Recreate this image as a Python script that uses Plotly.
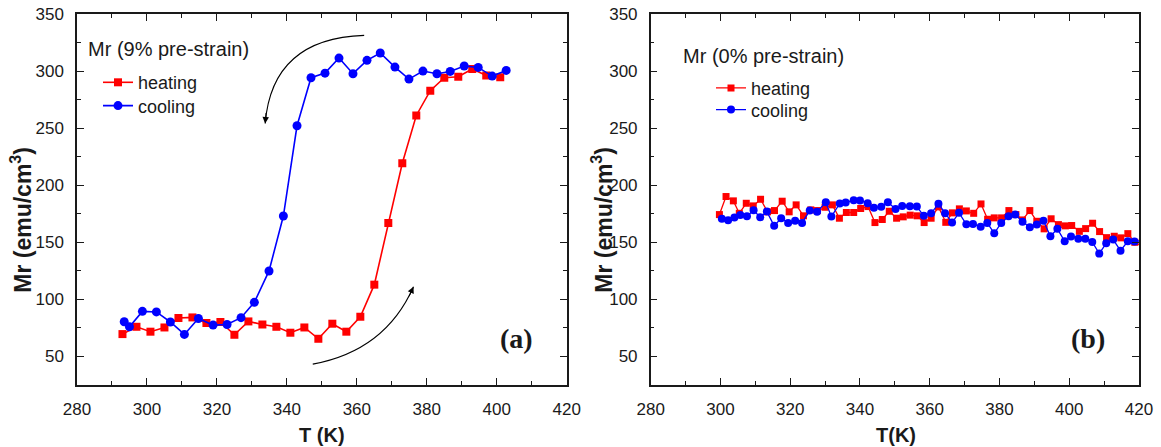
import plotly.graph_objects as go

# ---------------- data: panel (a) Mr, 9% pre-strain ----------------
a_heat_T = [293, 297, 301, 305, 309, 313, 317, 321, 325, 329, 333, 337, 341, 345,
            349, 353, 357, 361, 365, 369, 373, 377, 381, 385, 389, 393, 397, 401]
a_heat_Mr = [69.6, 76, 71.7, 75.4, 83.7, 84.2, 79.3, 80.2, 69, 80.7, 78, 76, 70.8, 75.4,
             65.5, 78.7, 71.7, 84.8, 112.9, 167, 219.3, 261.1, 282.8, 294.2, 295, 301.8, 296.2, 294.7]
a_cool_T = [293.5, 295, 298.7, 302.7, 306.7, 310.7, 314.7, 318.9, 322.9, 326.9, 330.7, 334.9, 339,
            342.9, 346.9, 350.9, 354.9, 358.9, 362.9, 366.7, 370.9, 374.9, 378.9, 382.9, 386.7,
            390.7, 394.7, 398.7, 402.7]
a_cool_Mr = [80.4, 76, 89.5, 89, 80.2, 69.3, 83.3, 77.5, 78, 84, 97.4, 124.9, 173,
             252.1, 294.2, 298.2, 311.4, 297.7, 309.4, 315.8, 303.5, 293, 300, 297.7, 299.7,
             304.4, 303.2, 295.6, 300.6]

# ---------------- data: panel (b) Mr, 0% pre-strain ----------------
b_heat_T = [299.7, 301.6, 303.7, 305.4, 307.4, 309.4, 311.5, 313.5, 315.5, 317.7,
            319.7, 321.7, 323.8, 325.9, 327.8, 330.0, 332.1, 334.1, 336.1, 338.2,
            340.2, 342.3, 344.3, 346.4, 348.4, 350.5, 352.4, 354.4, 356.4, 358.4,
            360.4, 362.5, 364.6, 366.5, 368.5, 370.5, 372.6, 374.7, 376.6, 378.5,
            380.6, 382.7, 384.7, 386.6, 388.7, 390.7, 392.8, 394.8, 396.9, 398.9,
            400.7, 402.9, 404.7, 406.7, 408.7, 410.7, 412.9, 414.8, 416.8, 418.8, 420.6]
b_heat_Mr = [174.3, 190.1, 186.3, 175.4, 184.2, 181.9, 187.7, 176.7, 177.8, 186,
             176.7, 182.8, 173.2, 178.4, 177.8, 180.7, 182.8, 171.1, 176.1, 176.1,
             179.6, 181.3, 167.3, 170, 177.2, 171.1, 172.3, 173.8, 173.2, 167.3,
             171.1, 181, 167.5, 175.8, 179.3, 177.5, 175.4, 183.6, 170.2, 171.4,
             171.4, 177.8, 174.3, 169.6, 177.8, 168.4, 161.8, 170.6, 165.5, 164.4,
             164.7, 159.6, 162, 166.7, 159.4, 154.1, 155.3, 153.9, 157.6, 150, 147]
b_cool_T = [300.4, 302.2, 304.0, 305.7, 307.6, 309.5, 311.4, 313.3, 315.4, 317.4,
            319.4, 321.4, 323.4, 325.6, 327.7, 330.2, 331.8, 334.2, 335.9, 338.2,
            340.0, 342.2, 344.0, 346.1, 348.0, 350.2, 352.1, 354.3, 356.3, 358.3,
            360.4, 362.5, 364.4, 366.4, 368.4, 370.5, 372.4, 374.6, 376.5, 378.5,
            380.5, 382.6, 384.5, 386.6, 388.7, 390.7, 392.6, 394.6, 396.6, 398.7,
            400.5, 402.6, 404.6, 406.6, 408.6, 410.6, 412.6, 414.7, 416.8, 418.7, 420.3]
b_cool_Mr = [170.6, 169.3, 171.7, 174.0, 172.8, 178.0, 171.9, 176.9, 164.4, 171.1,
             167.0, 168.8, 167.0, 177.8, 176.7, 185.1, 172.5, 184.0, 184.8, 186.9,
             186.7, 184.3, 180.2, 181.2, 185.0, 179.1, 181.9, 181.6, 181.3, 173.2,
             175.4, 183.7, 175.4, 167.3, 175.8, 165.8, 166.1, 163.6, 167.0, 157.9,
             167.0, 172.8, 174.3, 167.9, 163.2, 165.5, 168.8, 155.3, 161.8, 150.9,
             155.0, 153.2, 153.2, 150.3, 140.1, 149.1, 152.4, 142.7, 150.9, 150.6, 151.5]

RED = "#FF0000"
BLUE = "#0000FF"
INK = "#1a1a1a"
SANS = "Liberation Sans, Arial, sans-serif"
SERIF = "Liberation Serif, Times New Roman, serif"

W, H = 1161, 447
L, R, T, B = 77, 1139, 14, 385.5


def px_x(p):
    return (p - L) / (R - L)


def px_y(p):
    return (B - p) / (B - T)


fig = go.Figure()

fig.add_trace(go.Scatter(x=a_heat_T, y=a_heat_Mr, name="heating", mode="lines+markers",
                         line=dict(color=RED, width=1.6),
                         marker=dict(symbol="square", size=8, color=RED),
                         xaxis="x", yaxis="y", legend="legend"))
fig.add_trace(go.Scatter(x=a_cool_T, y=a_cool_Mr, name="cooling", mode="lines+markers",
                         line=dict(color=BLUE, width=1.6),
                         marker=dict(symbol="circle", size=9, color=BLUE),
                         xaxis="x", yaxis="y", legend="legend2"))
fig.add_trace(go.Scatter(x=b_heat_T, y=b_heat_Mr, name="heating", mode="lines+markers",
                         line=dict(color=RED, width=1.3),
                         marker=dict(symbol="square", size=7, color=RED),
                         xaxis="x2", yaxis="y2", legend="legend3", cliponaxis=False))
fig.add_trace(go.Scatter(x=b_cool_T, y=b_cool_Mr, name="cooling", mode="lines+markers",
                         line=dict(color=BLUE, width=1.3),
                         marker=dict(symbol="circle", size=8, color=BLUE),
                         xaxis="x2", yaxis="y2", legend="legend4", cliponaxis=False))

axis_common = dict(showline=True, linewidth=1.5, linecolor=INK, mirror="ticks",
                   ticks="inside", ticklen=7, tickwidth=1.3, tickcolor=INK,
                   showgrid=False, zeroline=False, automargin=False,
                   tickfont=dict(family=SANS, size=17, color=INK))

xa = dict(axis_common, range=[280, 420], tick0=280, dtick=20,
          minor=dict(ticks="inside", ticklen=4, dtick=10, tickcolor=INK, tickwidth=1.2),
          ticklabelstandoff=8)
ya = dict(axis_common, range=[25, 350], tick0=50, dtick=50,
          minor=dict(ticks="inside", ticklen=4, dtick=25, tickcolor=INK, tickwidth=1.2),
          ticklabelstandoff=8)


def leg(xpx, ypx):
    return dict(x=px_x(xpx), y=px_y(ypx), xanchor="left", yanchor="middle",
                bgcolor="rgba(0,0,0,0)", borderwidth=0,
                font=dict(family=SANS, size=18, color=INK), itemwidth=30)


fig.update_layout(
    width=W, height=H,
    margin=dict(l=L, r=W - R, t=T, b=H - B, pad=0, autoexpand=False),
    paper_bgcolor="white", plot_bgcolor="white",
    xaxis=dict(xa, domain=[0, px_x(566.7)], anchor="y"),
    yaxis=dict(ya, anchor="x"),
    xaxis2=dict(xa, domain=[px_x(650.7), 1], anchor="y2"),
    yaxis2=dict(ya, anchor="x2"),
    legend=leg(98, 82.7),
    legend2=leg(98, 106),
    legend3=leg(711, 88.3),
    legend4=leg(711, 110),
    showlegend=True,
)

annotations = [
    dict(text="Mr (9% pre-strain)", x=px_x(86), y=px_y(49.5), xanchor="left", yanchor="middle",
         font=dict(family=SANS, size=20, color=INK)),
    dict(text="Mr (0% pre-strain)", x=px_x(681), y=px_y(56), xanchor="left", yanchor="middle",
         font=dict(family=SANS, size=20, color=INK)),
    dict(text="<b>(a)</b>", x=px_x(516), y=px_y(339), xanchor="center", yanchor="middle",
         font=dict(family=SERIF, size=28, color=INK)),
    dict(text="<b>(b)</b>", x=px_x(1088), y=px_y(339), xanchor="center", yanchor="middle",
         font=dict(family=SERIF, size=28, color=INK)),
    dict(text="<b>T (K)</b>", x=px_x(322), y=px_y(436), xanchor="center", yanchor="middle",
         font=dict(family=SANS, size=20, color=INK)),
    dict(text="<b>T(K)</b>", x=px_x(896), y=px_y(436), xanchor="center", yanchor="middle",
         font=dict(family=SANS, size=20, color=INK)),
    dict(text="<b>Mr (emu/cm<sup>3</sup>)</b>", x=px_x(21), y=px_y(220), textangle=-90,
         xanchor="center", yanchor="middle", font=dict(family=SANS, size=23, color=INK)),
    dict(text="<b>Mr (emu/cm<sup>3</sup>)</b>", x=px_x(602), y=px_y(220), textangle=-90,
         xanchor="center", yanchor="middle", font=dict(family=SANS, size=23, color=INK)),
]
for a in annotations:
    a.update(xref="paper", yref="paper", showarrow=False)

# arrowheads for the two curved guide arrows
annotations += [
    dict(x=333.8, y=254.1, xref="x", yref="y", ax=1, ay=-12, text="", showarrow=True,
         arrowhead=2, arrowsize=1.3, arrowwidth=1, arrowcolor="black", standoff=0),
    dict(x=376.2, y=111.1, xref="x", yref="y", ax=-5, ay=11, text="", showarrow=True,
         arrowhead=2, arrowsize=1.3, arrowwidth=1, arrowcolor="black", standoff=0),
]
fig.update_layout(annotations=annotations)

fig.update_layout(shapes=[
    dict(type="path", xref="x", yref="y", path="M 362.1,331.3 Q 335.8,328.7 333.8,254.1",
         line=dict(color="black", width=1.1)),
    dict(type="path", xref="x", yref="y", path="M 347.4,43.3 Q 368.1,55 376.2,111.1",
         line=dict(color="black", width=1.1)),
])

fig.write_html("out.html", config={"displayModeBar": False},
               post_script="document.body.style.margin='0px';document.body.style.overflow='hidden';")
